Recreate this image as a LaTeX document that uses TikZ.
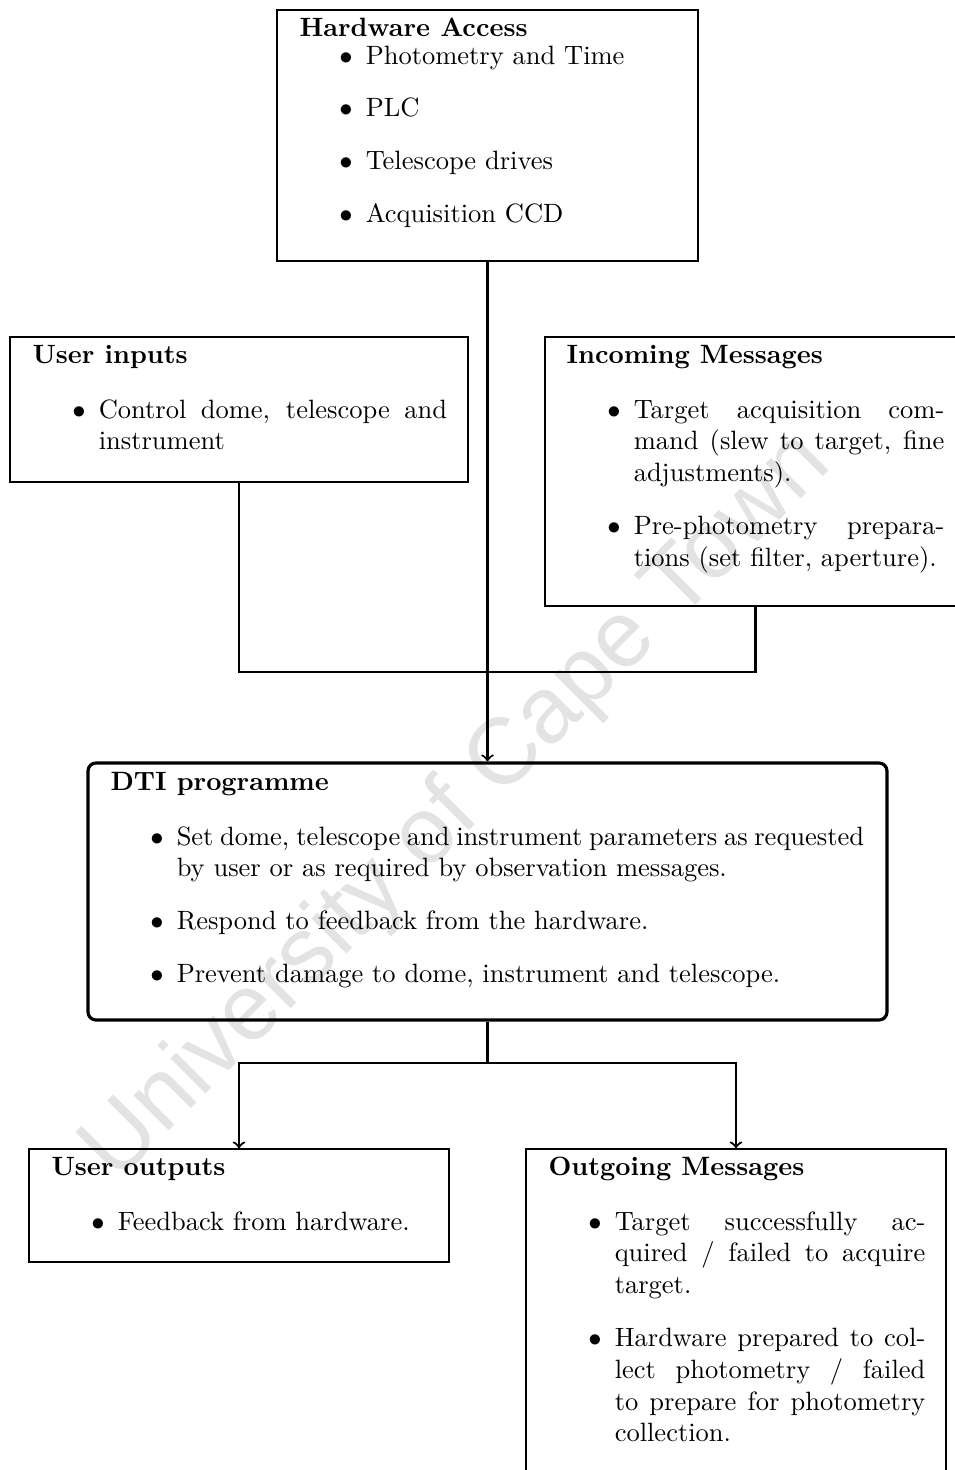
\documentclass[tikz,border=0pt]{standalone}
\usepackage{fontspec}
\newfontfamily\wmfont{Liberation Sans}
\usetikzlibrary{fit}
\renewcommand{\labelitemi}{$\bullet$}

\tikzset{
  x=0.3775pt, y=-0.3775pt,
  plainbox/.style={draw, line width=0.5pt, inner sep=0pt},
  mainbox/.style={draw, line width=1.2pt, rounded corners=3pt, inner sep=0pt},
  boxtitle/.style={anchor=base west, inner sep=0pt, font=\bfseries},
  boxlist/.style={anchor=base west, inner sep=0pt},
  conn/.style={line width=0.8pt},
  watermark/.style={rotate=45, text=black!11, inner sep=0pt,
    font=\wmfont\fontsize{35.5}{40}\selectfont}
}

\newcommand{\itemlist}[2]{%
  \begin{minipage}[t]{#1}\begin{itemize}#2\end{itemize}\end{minipage}}

\begin{document}
\begin{tikzpicture}
\useasboundingbox (0,0) rectangle (955,1470);
\clip (0,0) rectangle (955,1470);

% watermark behind everything
\node[watermark] (wm) at (458,808) {University of Cape Town};

% hardware access
\node[plainbox, fit={(277,10) (698,261)}] (hw) {};
\node[boxtitle] (hwt) at (299,36) {Hardware Access};
\node[boxlist] (hwl) at (299,64) {\itemlist{5cm}{%
  \item Photometry and Time
  \item PLC
  \item Telescope drives
  \item Acquisition CCD}};

% user inputs
\node[plainbox, fit={(10,337) (468,482)}] (ui) {};
\node[boxtitle] (uit) at (32,363) {User inputs};
\node[boxlist] (uil) at (32,418) {\itemlist{5.5cm}{%
  \item Control dome, telescope and instrument}};

% incoming messages
\node[plainbox, fit={(545,337) (966,606)}] (im) {};
\node[boxtitle] (imt) at (566,363) {Incoming Messages};
\node[boxlist] (iml) at (567,418) {\itemlist{5cm}{%
  \item Target acquisition command (slew to target, fine adjustments).
  \item Pre-photometry preparations (set filter, aperture).}};

% DTI programme
\node[mainbox, fit={(88,763) (887,1020)}] (dti) {};
\node[boxtitle] (dtit) at (110,790) {DTI programme};
\node[boxlist] (dtil) at (110,845) {\itemlist{10cm}{%
  \item Set dome, telescope and instrument parameters as requested by user or as required by observation messages.
  \item Respond to feedback from the hardware.
  \item Prevent damage to dome, instrument and telescope.}};

% user outputs
\node[plainbox, fit={(29,1149) (449,1262)}] (uo) {};
\node[boxtitle] (uot) at (51,1175) {User outputs};
\node[boxlist] (uol) at (51,1230) {\itemlist{5cm}{%
  \item Feedback from hardware.}};

% outgoing messages
\node[plainbox, fit={(526,1149) (946,1480)}] (om) {};
\node[boxtitle] (omt) at (548,1175) {Outgoing Messages};
\node[boxlist] (oml) at (548,1230) {\itemlist{5cm}{%
  \item Target successfully acquired / failed to acquire target.
  \item Hardware prepared to collect photometry / failed to prepare for photometry collection.}};

% connectors
\coordinate (join) at (487.5,672);
\coordinate (split) at (487.5,1063);
\draw[conn,->] (hw.south) -- (dti.north);
\draw[conn] (ui.south) |- (join) -| (im.south);
\draw[conn] (dti.south) -- (split);
\draw[conn,->] (split) -| (uo.north);
\draw[conn,->] (split) -| (om.north);
\end{tikzpicture}
\end{document}
